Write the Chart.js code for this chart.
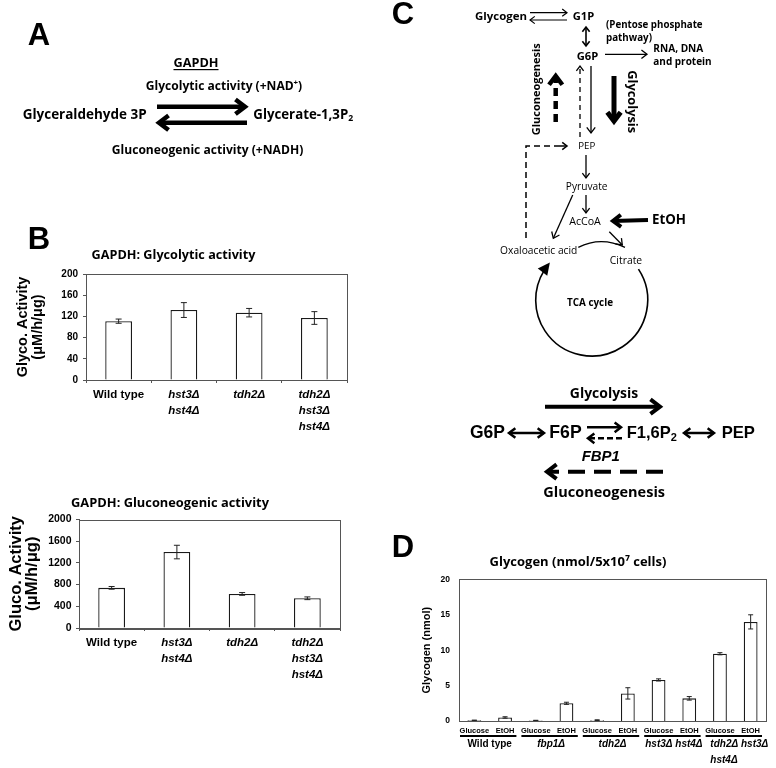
<!DOCTYPE html>
<html>
<head>
<meta charset="utf-8">
<script src="https://cdn.jsdelivr.net/npm/chart.js@4.4.1/dist/chart.umd.min.js"></script>
<style>
  html, body { margin: 0; padding: 0; background: #fff; }
  #page { position: relative; width: 776px; height: 768px; overflow: hidden; }
  #overlay { position: absolute; left: 0; top: 0; }
  .box { position: absolute; }
</style>
</head>
<body>
<div id="page">
  <canvas id="overlay" width="776" height="768"></canvas>
  <div class="box" style="left:0;top:236px;width:390px;height:200px"><canvas id="graficoGlyco"></canvas></div>
  <div class="box" style="left:0;top:480px;width:390px;height:204px"><canvas id="graficoGluco"></canvas></div>
  <div class="box" style="left:390px;top:545px;width:386px;height:223px"><canvas id="graficoGlycogen"></canvas></div>
</div>
<script>
// dados
const strainsB = [['Wild type'], ['hst3Δ', 'hst4Δ'], ['tdh2Δ'], ['tdh2Δ', 'hst3Δ', 'hst4Δ']];
const glycoActivity = [111, 132, 127, 117];
const glycoError = [4, 14, 8, 12];
const glucoActivity = [740, 1400, 628, 548];
const glucoError = [25, 125, 25, 25];

const carbonSources = ['Glucose', 'EtOH', 'Glucose', 'EtOH', 'Glucose', 'EtOH', 'Glucose', 'EtOH', 'Glucose', 'EtOH'];
const strainsD = [['Wild type'], ['fbp1Δ'], ['tdh2Δ'], ['hst3Δ hst4Δ'], ['tdh2Δ hst3Δ', 'hst4Δ']];
const glycogen = [0.1, 0.5, 0.08, 2.5, 0.12, 3.9, 5.8, 3.2, 9.5, 14.0];
const glycogenError = [0.02, 0.1, 0.02, 0.15, 0.05, 0.8, 0.15, 0.25, 0.15, 1.0];

const ARIAL = "'Liberation Sans', Arial, sans-serif";
const HUM = "'Open Sans', Lato, sans-serif";

Chart.defaults.font.family = ARIAL;
Chart.defaults.color = '#000';

// tamanho de fonte para o texto ocupar a largura w
const medidor = document.createElement('canvas').getContext('2d');
function fitSize(s, weight, family, w) {
    medidor.font = weight + ' 100px ' + family;
    return 100 * w / medidor.measureText(s).width;
}

// barras de erro
const errorBars = {
    id: 'errorBars',
    afterDatasetsDraw(chart, args, opts) {
        const ctx = chart.ctx;
        const y = chart.scales.y;
        const vals = chart.data.datasets[0].data;
        ctx.save();
        ctx.strokeStyle = '#222';
        ctx.lineWidth = 1;
        chart.getDatasetMeta(0).data.forEach((bar, i) => {
            const top = y.getPixelForValue(vals[i] + opts.errors[i]);
            const bot = y.getPixelForValue(Math.max(0, vals[i] - opts.errors[i]));
            ctx.beginPath();
            ctx.moveTo(bar.x, top); ctx.lineTo(bar.x, bot);
            ctx.moveTo(bar.x - opts.cap, top); ctx.lineTo(bar.x + opts.cap, top);
            ctx.moveTo(bar.x - opts.cap, bot); ctx.lineTo(bar.x + opts.cap, bot);
            ctx.stroke();
        });
        ctx.restore();
    }
};

// moldura em volta da área do gráfico
const frame = {
    id: 'frame',
    afterDraw(chart) {
        const {ctx, chartArea: a} = chart;
        ctx.save();
        ctx.strokeStyle = '#555';
        ctx.lineWidth = 1;
        ctx.strokeRect(Math.round(a.left) + 0.5, Math.round(a.top) + 0.5, Math.round(a.width), Math.round(a.height));
        ctx.restore();
    }
};

// linhas e nomes das cepas no painel D
const groupLabels = {
    id: 'groupLabels',
    afterDraw(chart, args, opts) {
        const {ctx, scales: {x}} = chart;
        const half = (x.getPixelForValue(1) - x.getPixelForValue(0)) / 2;
        ctx.save();
        ctx.fillStyle = '#000';
        ctx.strokeStyle = '#000';
        ctx.textBaseline = 'middle';
        opts.groups.forEach((lines, k) => {
            const a = x.getPixelForValue(2 * k) - half + 1;
            const b = x.getPixelForValue(2 * k + 1) + half - 4;
            ctx.lineWidth = 2;
            ctx.beginPath(); ctx.moveTo(a, opts.lineY); ctx.lineTo(b, opts.lineY); ctx.stroke();
            ctx.font = (k === 0 ? '' : 'italic ') + 'bold 10px ' + ARIAL;
            const mid = (a + b) / 2 + 1.5;
            if (lines.length === 1) {
                ctx.textAlign = 'center';
                ctx.fillText(lines[0], mid, opts.textY);
            } else {
                const left = mid - ctx.measureText(lines[0]).width / 2 + 4;
                ctx.textAlign = 'left';
                lines.forEach((s, j) => ctx.fillText(s, left, opts.textY + j * 16));
            }
        });
        ctx.restore();
    }
};

function barChart(id, cfg) {
    const canvas = document.getElementById(id);
    if (!canvas) return;
    // título: largura medida na figura, posição do centro e topo da área
    const tSize = fitSize(cfg.title, 'bold', HUM, cfg.titleWidth);
    const lh = tSize * 1.2;
    const titlePad = { top: cfg.titleY - cfg.boxTop - lh / 2, bottom: cfg.areaTop - cfg.titleY - lh / 2 };
    return new Chart(canvas.getContext('2d'), {
        type: 'bar',
        data: {
            labels: cfg.labels,
            datasets: [{
                data: cfg.values,
                backgroundColor: '#fff',
                borderColor: '#1a1a1a',
                borderWidth: 1.3,
                barPercentage: cfg.barPct,
                categoryPercentage: 1
            }]
        },
        options: {
            responsive: true,
            maintainAspectRatio: false,
            animation: false,
            events: [],
            layout: { padding: { left: 0, right: cfg.padRight, top: 0, bottom: 0 } },
            plugins: {
                legend: { display: false },
                tooltip: { enabled: false },
                title: {
                    display: true,
                    text: cfg.title,
                    color: '#000',
                    font: { family: HUM, size: tSize, weight: 'bold', lineHeight: 1.2 },
                    padding: titlePad
                },
                errorBars: { errors: cfg.errors, cap: cfg.cap },
                groupLabels: cfg.groups || { groups: [] }
            },
            scales: {
                x: {
                    afterFit: s => { s.height = cfg.xHeight; },
                    grid: { display: cfg.xTicks, offset: true, drawOnChartArea: false, drawTicks: cfg.xTicks, tickLength: 3, color: '#555' },
                    border: { display: true, color: '#555' },
                    ticks: {
                        padding: cfg.xPad,
                        maxRotation: 0,
                        autoSkip: false,
                        font: c => ({
                            family: ARIAL, size: cfg.xFont, weight: 'bold', lineHeight: cfg.xLine,
                            style: (cfg.italicFrom !== undefined && c.index >= cfg.italicFrom) ? 'italic' : 'normal'
                        })
                    }
                },
                y: {
                    min: 0,
                    max: cfg.max,
                    afterFit: s => { s.width = cfg.yWidth; },
                    grid: { display: cfg.yTicks, drawOnChartArea: false, drawTicks: cfg.yTicks, tickLength: 3, color: '#555' },
                    border: { display: true, color: '#555' },
                    ticks: {
                        stepSize: cfg.step,
                        padding: cfg.yPad,
                        font: { family: ARIAL, size: cfg.yFont, weight: 'bold' },
                        callback: v => String(v)
                    },
                    title: {
                        display: true,
                        text: cfg.yTitle,
                        color: '#000',
                        font: { family: ARIAL, size: cfg.yTitleSize, weight: 'bold', lineHeight: cfg.yTitleLine },
                        padding: { top: cfg.yTitlePad, bottom: 0 }
                    }
                }
            }
        },
        plugins: [errorBars, frame, groupLabels]
    });
}

function criarGraficos() {
    barChart('graficoGlyco', {
        labels: strainsB, values: glycoActivity, errors: glycoError, cap: 3, barPct: 0.41,
        title: 'GAPDH: Glycolytic activity', titleWidth: 164, boxTop: 236, titleY: 255, areaTop: 274,
        padRight: 43, yWidth: 86, xHeight: 56, max: 200, step: 40,
        xTicks: true, xPad: 4, xFont: 11.5, xLine: 1.39, italicFrom: 1,
        yTicks: true, yPad: 5, yFont: 10,
        yTitle: ['Glyco. Activity', '(μM/h/μg)'], yTitleSize: 14.5, yTitleLine: 1.0, yTitlePad: 16
    });
    barChart('graficoGluco', {
        labels: strainsB, values: glucoActivity, errors: glucoError, cap: 3, barPct: 0.41,
        title: 'GAPDH: Gluconeogenic activity', titleWidth: 198, boxTop: 480, titleY: 503, areaTop: 519.5,
        padRight: 50, yWidth: 79, xHeight: 56, max: 2000, step: 400,
        xTicks: true, xPad: 4, xFont: 11.5, xLine: 1.39, italicFrom: 1,
        yTicks: true, yPad: 4.5, yFont: 10.5,
        yTitle: ['Gluco. Activity', '(μM/h/μg)'], yTitleSize: 16.5, yTitleLine: 0.98, yTitlePad: 8
    });
    barChart('graficoGlycogen', {
        labels: carbonSources, values: glycogen, errors: glycogenError, cap: 2.5, barPct: 0.45,
        title: 'Glycogen (nmol/5x10⁷ cells)', titleWidth: 177, boxTop: 545, titleY: 562.7, areaTop: 579.4,
        padRight: 10, yWidth: 69, xHeight: 47, max: 20, step: 5,
        xTicks: false, xPad: 5.5, xFont: 7.5, xLine: 1.2,
        yTicks: false, yPad: 9, yFont: 8.5,
        yTitle: 'Glycogen (nmol)', yTitleSize: 11, yTitleLine: 1.2, yTitlePad: 30.4,
        groups: { groups: strainsD, lineY: 736 - 545, textY: 744 - 545 }
    });
}

// ---- diagramas (painéis A e C) ----
const ov = document.getElementById('overlay');
const g = ov.getContext('2d');

function T(s, x, y, w, weight, family, align, rot) {
    g.save();
    const size = fitSize(s, weight, family, w);
    g.font = weight + ' ' + size.toFixed(2) + 'px ' + family;
    g.fillStyle = '#000';
    g.textAlign = align || 'center';
    g.textBaseline = 'middle';
    g.translate(x, y);
    if (rot) g.rotate(rot);
    g.fillText(s, 0, 0);
    g.restore();
    return size;
}

function rich(parts, x, y, align) {
    g.save();
    g.fillStyle = '#000';
    g.textBaseline = 'middle';
    g.textAlign = 'left';
    let w = 0;
    parts.forEach(p => { g.font = p[1]; w += g.measureText(p[0]).width; });
    let cx = align === 'left' ? x : x - w / 2;
    parts.forEach(p => { g.font = p[1]; g.fillText(p[0], cx, y + (p[2] || 0)); cx += g.measureText(p[0]).width; });
    g.restore();
}

function head(x, y, a, size, lw) {
    g.lineWidth = lw;
    g.lineJoin = 'miter';
    g.beginPath();
    g.moveTo(x - size * Math.cos(a - 0.65), y - size * Math.sin(a - 0.65));
    g.lineTo(x, y);
    g.lineTo(x - size * Math.cos(a + 0.65), y - size * Math.sin(a + 0.65));
    g.stroke();
}

function arrow(x1, y1, x2, y2, lw, size, dash, both) {
    g.save();
    g.strokeStyle = '#000';
    g.lineWidth = lw;
    g.setLineDash(dash || []);
    g.beginPath(); g.moveTo(x1, y1); g.lineTo(x2, y2); g.stroke();
    g.setLineDash([]);
    const a = Math.atan2(y2 - y1, x2 - x1);
    head(x2, y2, a, size, lw);
    if (both) head(x1, y1, a + Math.PI, size, lw);
    g.restore();
}

function desenharDiagramas() {
    g.fillStyle = '#fff';
    g.fillRect(0, 0, 776, 768);
    g.fillStyle = '#000';
    g.strokeStyle = '#000';

    // letras dos painéis
    [['A', 39, 36], ['B', 39, 240], ['C', 403, 15], ['D', 403, 548]].forEach(p => {
        g.save(); g.font = 'bold 31px ' + ARIAL; g.fillStyle = '#000';
        g.textAlign = 'center'; g.textBaseline = 'middle';
        g.fillText(p[0], p[1], p[2]); g.restore();
    });

    // painel A
    T('GAPDH', 196, 63, 45, 'bold', HUM);
    g.fillRect(173.5, 69, 45, 1.2);
    const fa = fitSize('Glycolytic activity (+NAD)', 'bold', HUM, 152);
    rich([['Glycolytic activity (+NAD', 'bold ' + fa + 'px ' + HUM], ['+', 'bold ' + (fa * 0.65) + 'px ' + HUM, -4], [')', 'bold ' + fa + 'px ' + HUM]], 224, 87);
    T('Glyceraldehyde 3P', 22.7, 115, 124, 'bold', HUM, 'left');
    arrow(157, 106.7, 245, 106.7, 4.5, 12);
    arrow(247, 122.7, 159, 122.7, 4.5, 12);
    const fb = fitSize('Glycerate-1,3P', 'bold', HUM, 95);
    rich([['Glycerate-1,3P', 'bold ' + fb + 'px ' + HUM], ['2', 'bold ' + (fb * 0.65) + 'px ' + HUM, 4]], 253.3, 115, 'left');
    T('Gluconeogenic activity (+NADH)', 207.5, 150.7, 191.6, 'bold', HUM);

    // painel C: via metabólica
    T('Glycogen', 475, 17, 52, 'bold', HUM, 'left');
    arrow(530, 12.7, 567, 12.7, 1.2, 6);
    arrow(567, 20, 530, 20, 1.2, 6);
    T('G1P', 583.5, 17, 21.5, 'bold', HUM);
    arrow(586, 27, 586, 46, 1.6, 6, null, true);
    T('G6P', 587.5, 57, 21.5, 'bold', HUM);
    T('(Pentose phosphate', 606, 25, 96.7, 'bold', HUM, 'left');
    T('pathway)', 606, 38.3, 46, 'bold', HUM, 'left');
    arrow(605, 54.3, 647, 54.3, 1.3, 7);
    T('RNA, DNA', 653.3, 49.3, 50, 'bold', HUM, 'left');
    T('and protein', 653.3, 62.3, 58.4, 'bold', HUM, 'left');
    arrow(580, 137, 580, 66, 1.3, 6, [5, 4]);
    arrow(591, 66, 591, 133, 1.3, 7);
    arrow(555.7, 122, 555.7, 76, 4.5, 11, [8, 5]);
    arrow(614, 76, 614, 121, 5, 11);
    T('Gluconeogenesis', 536.7, 89.2, 92, 'bold', HUM, 'center', -Math.PI / 2);
    T('Glycolysis', 631.7, 101.7, 63, 'bold', HUM, 'center', Math.PI / 2);
    T('PEP', 586.7, 146.7, 17, 'normal', HUM);

    g.save();
    g.lineWidth = 1.5; g.setLineDash([6, 4]);
    g.beginPath(); g.moveTo(526, 238); g.lineTo(526, 146); g.lineTo(560, 146); g.stroke();
    g.restore();
    arrow(560, 146, 567, 146, 1.5, 6);

    arrow(586, 155, 586, 178, 1.3, 6);
    T('Pyruvate', 586.7, 186.7, 41.7, 'normal', HUM);
    arrow(586, 195, 586, 213, 1.3, 6);
    T('AcCoA', 585, 221.7, 31.7, 'normal', HUM);
    arrow(648, 220, 613, 221, 4, 10);
    T('EtOH', 652, 220, 34, 'bold', HUM, 'left');
    arrow(572.7, 195, 553.3, 238.3, 1.3, 7);
    arrow(609.3, 231.7, 622.3, 245, 1.3, 7);
    T('Oxaloacetic acid', 538.7, 251, 77.3, 'normal', HUM);
    T('Citrate', 626, 261, 32.3, 'normal', HUM);

    g.save();
    g.lineWidth = 1.3;
    g.beginPath(); g.moveTo(578.3, 247.3); g.quadraticCurveTo(601, 236, 625, 247.3); g.stroke();
    // ciclo de Krebs
    const cx = 591.7, cy = 300, r = 56;
    g.lineWidth = 1.6;
    g.beginPath(); g.arc(cx, cy, r, -0.583, 3.70, false); g.stroke();
    const t = 3.80, px = cx + r * Math.cos(t), py = cy + r * Math.sin(t);
    const dx = -Math.sin(t), dy = Math.cos(t);
    g.fillStyle = '#000';
    g.beginPath();
    g.moveTo(px + dx * 4, py + dy * 4);
    g.lineTo(px - dx * 8 + dy * 6, py - dy * 8 - dx * 6);
    g.lineTo(px - dx * 8 - dy * 6, py - dy * 8 + dx * 6);
    g.closePath(); g.fill();
    g.restore();
    T('TCA cycle', 590, 303.3, 46, 'bold', HUM);

    // painel C: esquema de baixo
    T('Glycolysis', 604, 394, 68.3, 'bold', HUM);
    arrow(545, 406.7, 660, 406.7, 4, 12);
    T('G6P', 487.5, 433, 35, 'bold', ARIAL);
    arrow(509, 433, 544, 433, 2.5, 8, null, true);
    T('F6P', 565.5, 433, 32.4, 'bold', ARIAL);
    arrow(587, 427.3, 621, 427.3, 2.5, 8);
    arrow(622, 438.3, 588, 438.3, 2.5, 8, [6, 3]);
    rich([['F1,6P', 'bold 16.5px ' + ARIAL], ['2', 'bold 11px ' + ARIAL, 5]], 626.7, 433, 'left');
    arrow(684, 433, 714, 433, 2.5, 8, null, true);
    T('PEP', 738.3, 433, 33.3, 'bold', ARIAL);
    T('FBP1', 600.8, 456.7, 38.3, 'italic bold', ARIAL);
    arrow(663, 471.7, 547, 471.7, 4, 12, [17, 9]);
    T('Gluconeogenesis', 604.2, 493.3, 121.7, 'bold', HUM);
}

window.addEventListener('load', () => {
    desenharDiagramas();
    criarGraficos();
});
</script>
</body>
</html>
